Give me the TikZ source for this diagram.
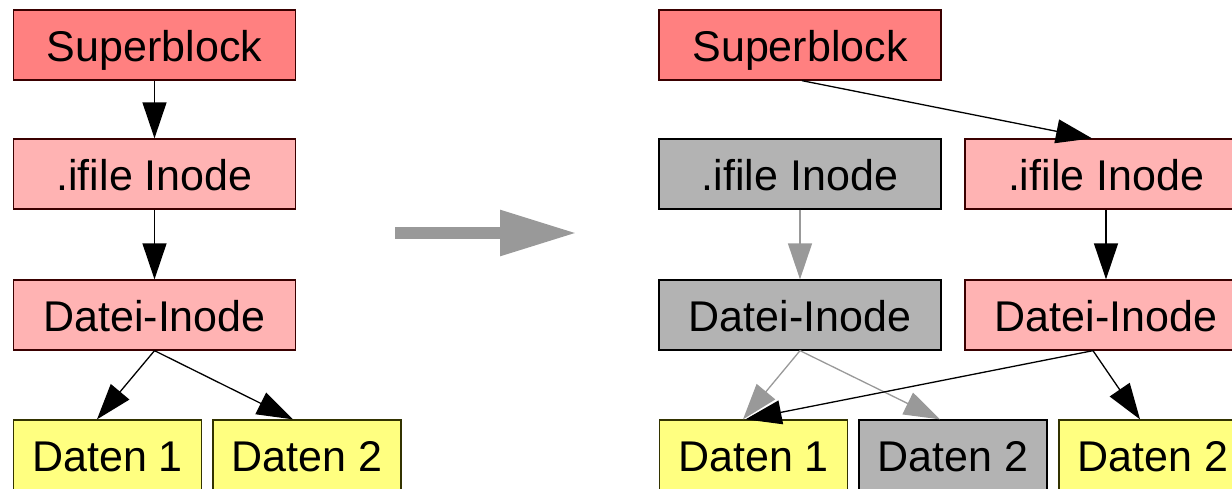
\documentclass[tikz,border=0pt]{standalone}
\usepackage{fontspec}
\setmainfont{Liberation Sans}
\usetikzlibrary{arrows.meta}
\definecolor{sbfill}{HTML}{FF8080}
\definecolor{pkfill}{HTML}{FFB3B3}
\definecolor{gyfill}{HTML}{B3B3B3}
\definecolor{ylfill}{HTML}{FFFF80}
\definecolor{redline}{HTML}{3A0000}
\definecolor{ylline}{HTML}{333300}
\definecolor{grayedge}{HTML}{999999}
\tikzset{
  box/.style={draw, line width=1.3pt, rectangle, inner sep=0pt,
    minimum width=282pt, minimum height=70pt,
    text height=35pt, text depth=3pt,
    font=\fontsize{43}{50}\selectfont},
  sbbox/.style={box, fill=sbfill, draw=redline},
  pkbox/.style={box, fill=pkfill, draw=redline},
  gybox/.style={box, fill=gyfill, draw=black},
  dbox/.style={box, minimum width=188pt},
  yldbox/.style={dbox, fill=ylfill, draw=ylline},
  gydbox/.style={dbox, fill=gyfill, draw=black},
  edge/.style={line width=1.3pt, draw=black, -{Triangle[length=36pt,width=24pt]}},
  gedge/.style={line width=1.3pt, draw=grayedge, -{Triangle[length=36pt,width=24pt]}},
}
\begin{document}
\begin{tikzpicture}[x=1pt,y=-1pt]
\useasboundingbox (0,0) rectangle (1232,488);
\clip (0,0) rectangle (1232,488);
% left
\node[sbbox] (ls) at (154.5,45) {Superblock};
\node[pkbox] (li) at (154.5,174) {.ifile Inode};
\node[pkbox] (ld) at (154.5,315) {Datei-Inode};
\node[yldbox] (ld1) at (107.5,455) {Daten 1};
\node[yldbox] (ld2) at (307,455) {Daten 2};
\draw[edge] (ls.south) -- (li.north);
\draw[edge] (li.south) -- (ld.north);
\draw[edge] (ld.south) -- ([xshift=-10.5pt]ld1.north);
\draw[edge] (ld.south) -- ([xshift=-14pt]ld2.north);
% middle arrow
\coordinate (ma) at (395,233);
\coordinate (mb) at (577,233);
\draw[line width=12pt, draw=grayedge, -{Triangle[length=77pt,width=43pt]}] (ma) -- (mb);
% right
\node[sbbox] (rs) at (800,45) {Superblock};
\node[gybox] (rgi) at (800,174) {.ifile Inode};
\node[pkbox] (rpi) at (1106,174) {.ifile Inode};
\node[gybox] (rgd) at (800,315) {Datei-Inode};
\node[pkbox] (rpd) at (1106,315) {Datei-Inode};
\node[yldbox] (rd1) at (753.5,455) {Daten 1};
\node[gydbox] (rgd2) at (953,455) {Daten 2};
\node[yldbox] (ryd2) at (1153,455) {Daten 2};
\draw[gedge] (rgi.south) -- (rgd.north);
\draw[gedge] (rgd.south) -- ([xshift=-10.5pt]rd1.north);
\draw[gedge] (rgd.south) -- ([xshift=-13pt]rgd2.north);
\draw[edge] ([xshift=2pt]rs.south) -- ([xshift=-14pt]rpi.north);
\draw[edge] (rpi.south) -- (rpd.north);
\draw[edge] ([xshift=-13pt]rpd.south) -- ([xshift=-8pt]rd1.north);
\draw[edge] ([xshift=-13pt]rpd.south) -- ([xshift=-13pt]ryd2.north);
\end{tikzpicture}
\end{document}
